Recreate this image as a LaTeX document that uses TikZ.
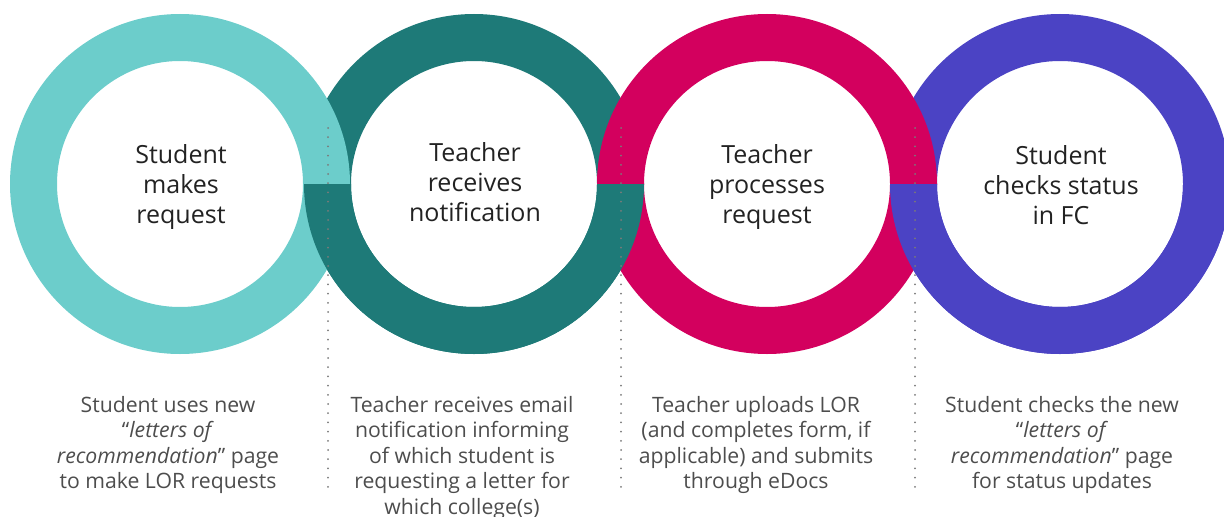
\documentclass[tikz,border=0pt]{standalone}
\usepackage{fontspec}
\setmainfont{Open Sans}
\definecolor{ringA}{HTML}{6CCDCB}
\definecolor{ringB}{HTML}{1E7A78}
\definecolor{ringC}{HTML}{D3005E}
\definecolor{ringD}{HTML}{4B43C4}
\definecolor{titlegray}{HTML}{222222}
\definecolor{notegray}{HTML}{4D4D4D}
\definecolor{dotgray}{HTML}{7A7A7A}
\begin{document}
\begin{tikzpicture}[x=0.75pt, y=-0.75pt,
  ringfill/.style={fill=#1, even odd rule},
  ringtitle/.style={align=center, inner sep=0pt, text=titlegray, font=\fontsize{18.75}{22.5}\selectfont},
  notetext/.style={align=center, anchor=north, inner sep=0pt, text=notegray, font=\fontsize{15.9}{19.1}\selectfont},
  divider/.style={draw=dotgray, line width=1.5pt, dash pattern=on 0pt off 6.9pt, line cap=round}]
  \useasboundingbox (0,0) rectangle (1224,517);
  \coordinate (c1) at (180,184); \coordinate (c2) at (474,184);
  \coordinate (c3) at (767,184); \coordinate (c4) at (1060,184);
  % rings 2 and 4 go under, 1 and 3 lie on top of them
  \path[ringfill=ringB] (c2) circle (170) (c2) circle (123);
  \path[ringfill=ringD] (c4) circle (170) (c4) circle (123);
  \path[ringfill=ringA] (c1) circle (170) (c1) circle (123);
  \path[ringfill=ringC] (c3) circle (170) (c3) circle (123);
  % lower halves of 2 and 4 come back over their neighbours
  \begin{scope}
    \clip (0,184) rectangle (1224,517);
    \path[ringfill=ringB] (c2) circle (170) (c2) circle (123);
    \path[ringfill=ringD] (c4) circle (170) (c4) circle (123);
  \end{scope}
  % step titles
  \node[ringtitle] (t1) at (181,187) {Student\\makes\\request};
  \node[ringtitle] (t2) at (475,182) {Teacher\\receives\\notification};
  \node[ringtitle] (t3) at (767,187) {Teacher\\processes\\request};
  \node[ringtitle] (t4) at (1061,185) {Student\\checks status\\in FC};
  % dotted dividers
  \coordinate (d1a) at (328,128); \coordinate (d1b) at (328,490);
  \coordinate (d2a) at (621,128); \coordinate (d2b) at (621,490);
  \coordinate (d3a) at (915,128); \coordinate (d3b) at (915,490);
  \draw[divider] (d1a) -- (d1b);
  \draw[divider] (d2a) -- (d2b);
  \draw[divider] (d3a) -- (d3b);
  % descriptions under each ring
  \node[notetext] (n1) at (168,396) {Student uses new\\“\textit{letters of}\\\textit{recommendation}” page\\to make LOR requests};
  \node[notetext] (n2) at (462,396) {Teacher receives email\\notification informing\\of which student is\\requesting a letter for\\which college(s)};
  \node[notetext] (n3) at (756,396) {Teacher uploads LOR\\(and completes form, if\\applicable) and submits\\through eDocs};
  \node[notetext] (n4) at (1062,396) {Student checks the new\\“\textit{letters of}\\\textit{recommendation}” page\\for status updates};
\end{tikzpicture}
\end{document}
